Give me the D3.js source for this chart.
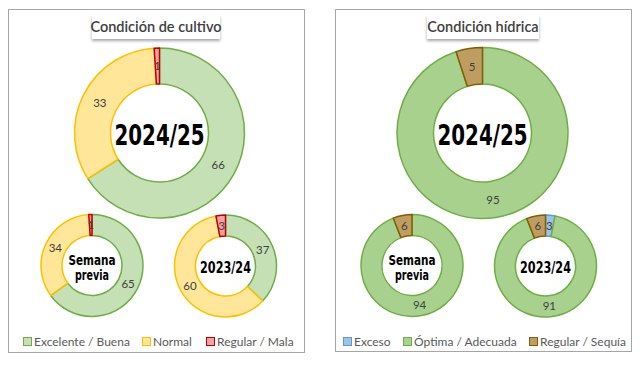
<!DOCTYPE html>
<html><head><meta charset="utf-8">
<script src="https://cdn.jsdelivr.net/npm/d3@7"></script>
<style>body{margin:0;background:#fff}svg{display:block}</style>
</head><body><svg id="c" width="640" height="369"></svg>
<script>
// ---- data ----
const cultivoCats = ["Excelente / Buena", "Normal", "Regular / Mala"];
const cultivoFill = ["#c5e0b4", "#ffe699", "#f4a3a3"];
const cultivoStroke = ["#70ad47", "#ffc000", "#c00000"];
const cultivo2024 = [66, 33, 1];
const cultivoPrev = [65, 34, 1];
const cultivo2023 = [37, 60, 3];

const hidricaCats = ["Exceso", "Óptima / Adecuada", "Regular / Sequía"];
const hidricaFill = ["#9dc3e6", "#a9d18e", "#bf9d60"];
const hidricaStroke = ["#5b9bd5", "#70ad47", "#7f6000"];
const hidrica2024 = [0, 95, 5];
const hidricaPrev = [0, 94, 6];
const hidrica2023 = [3, 91, 6];

const titles = ["Condición de cultivo", "Condición hídrica"];

const svg = d3.select("#c");
const defs = svg.append("defs");
const f = defs.append("filter").attr("id","sh").attr("x","-10%").attr("y","-20%").attr("width","120%").attr("height","160%");
f.append("feDropShadow").attr("dx",0).attr("dy",2).attr("stdDeviation",1.5).attr("flood-color","#000").attr("flood-opacity",0.35);

const panels = [
  {x:8, y:9, w:296, h:343, title:titles[0], tw:128, cats:cultivoCats, fill:cultivoFill, stroke:cultivoStroke,
   donuts:[{v:cultivo2024,cx:159.5,cy:133,r:85,ir:49,big:true,label:["2024/25"]},
           {v:cultivoPrev,cx:92,cy:265.5,r:51,ir:30,label:["Semana","previa"]},
           {v:cultivo2023,cx:225.5,cy:266,r:51,ir:30,label:["2023/24"]}],
   legendX:[27,146,210]},
  {x:335, y:9, w:296, h:342, title:titles[1], tw:112, cats:hidricaCats, fill:hidricaFill, stroke:hidricaStroke,
   donuts:[{v:hidrica2024,cx:482.5,cy:133,r:85.5,ir:49,big:true,label:["2024/25"]},
           {v:hidricaPrev,cx:412,cy:265.5,r:51,ir:30,label:["Semana","previa"]},
           {v:hidrica2023,cx:545.5,cy:266,r:51,ir:30,label:["2023/24"]}],
   legendX:[347,407,533]}
];

const pie = d3.pie().sort(null).value(d=>d);
const centerFont = "'DejaVu Sans', sans-serif";

panels.forEach(p=>{
  svg.append("rect").attr("x",p.x+0.5).attr("y",p.y+0.5).attr("width",p.w).attr("height",p.h)
    .attr("fill","#fff").attr("stroke","#a6a6a6").attr("stroke-width",1);
  const tcx = p.x + p.w/2;
  svg.append("rect").attr("x",tcx-p.tw/2).attr("y",15).attr("width",p.tw).attr("height",24)
    .attr("fill","#fff").attr("filter","url(#sh)");
  svg.append("text").attr("x",tcx).attr("y",32).attr("text-anchor","middle")
    .attr("font-family","Lato, 'Open Sans', sans-serif").attr("font-size",14.5).attr("font-weight",600).attr("fill","#404040")
    .text(p.title);

  p.donuts.forEach(d=>{
    const arc = d3.arc().innerRadius(d.ir).outerRadius(d.r);
    const la = d3.arc().innerRadius((d.ir+d.r)/2).outerRadius((d.ir+d.r)/2);
    const g = svg.append("g").attr("transform",`translate(${d.cx},${d.cy})`);
    const arcs = pie(d.v);
    g.selectAll("path").data(arcs).join("path")
      .attr("d",arc).attr("fill",(a,i)=>p.fill[i]).attr("stroke",(a,i)=>p.stroke[i]).attr("stroke-width",1.5)
      .attr("stroke-linejoin","round");
    g.selectAll("text.v").data(arcs.filter(a=>a.data>0)).join("text").attr("class","v")
      .attr("transform",a=>`translate(${la.centroid(a)})`)
      .attr("text-anchor","middle").attr("dy","0.36em")
      .attr("font-family","Lato, 'Open Sans', sans-serif").attr("font-size",11.5).attr("fill","#404040")
      .text(a=>a.data);
    if (d.big) {
      g.append("text").attr("x",0).attr("y",2).attr("dy","0.36em").attr("text-anchor","middle")
        .attr("font-family",centerFont).attr("font-weight","bold").attr("font-size",28)
        .attr("textLength",90).attr("lengthAdjust","spacingAndGlyphs").attr("fill","#000").text(d.label[0]);
    } else if (d.label.length > 1) {
      const widths = [47, 34];
      d.label.forEach((t,i)=>{
        g.append("text").attr("x",0).attr("y",1.5+(i-0.5)*15).attr("dy","0.36em").attr("text-anchor","middle")
          .attr("font-family",centerFont).attr("font-weight","bold").attr("font-size",14)
          .attr("textLength",widths[i]).attr("lengthAdjust","spacingAndGlyphs").attr("fill","#000").text(t);
      });
    } else {
      g.append("text").attr("x",0).attr("y",1).attr("dy","0.36em").attr("text-anchor","middle")
        .attr("font-family",centerFont).attr("font-weight","bold").attr("font-size",16.5)
        .attr("textLength",51).attr("lengthAdjust","spacingAndGlyphs").attr("fill","#000").text(d.label[0]);
    }
  });

  p.cats.forEach((c,i)=>{
    const lx = p.legendX[i];
    svg.append("rect").attr("x",lx-3.5).attr("y",337.5).attr("width",8).attr("height",8)
      .attr("fill",p.fill[i]).attr("stroke",p.stroke[i]).attr("stroke-width",1);
    svg.append("text").attr("x",lx+7).attr("y",342).attr("dy","0.36em")
      .attr("font-family","Lato, 'Open Sans', sans-serif").attr("font-size",12).attr("fill","#595959").text(c);
  });
});
</script></body></html>
